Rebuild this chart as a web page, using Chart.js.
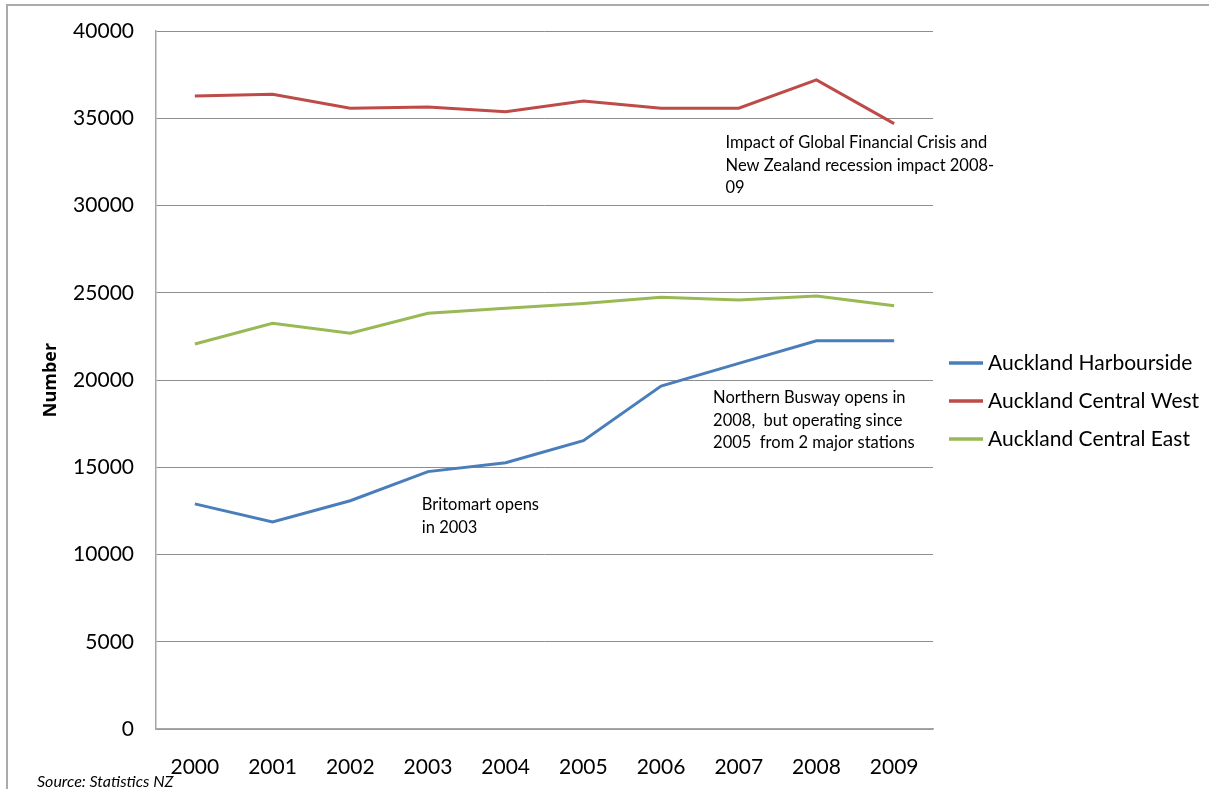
<!DOCTYPE html>
<html>
<head>
<meta charset="utf-8">
<script src="https://cdn.jsdelivr.net/npm/chart.js@4"></script>
<style>
  html, body { margin: 0; padding: 0; background: #fff; }
  #wrap { width: 1209px; height: 789px; position: relative; }
</style>
</head>
<body>
<div id="wrap"><canvas id="c" width="1209" height="789"></canvas></div>
<script>
const years = ['2000','2001','2002','2003','2004','2005','2006','2007','2008','2009'];
const harbourside = [12900, 11860, 13080, 14750, 15260, 16520, 19650, 20950, 22250, 22250];
const centralWest = [36280, 36380, 35580, 35650, 35370, 35990, 35580, 35580, 37200, 34690];
const centralEast = [22060, 23250, 22680, 23820, 24110, 24390, 24740, 24590, 24810, 24260];
const seriesNames = ['Auckland Harbourside', 'Auckland Central West', 'Auckland Central East'];
const yTicks = [0, 5000, 10000, 15000, 20000, 25000, 30000, 35000, 40000];
const notes = [
  { x: 2.92, y: 12840, lines: ['Britomart opens', 'in 2003'] },
  { x: 6.67, y: 18970, lines: ['Northern Busway opens in', '2008,  but operating since', '2005  from 2 major stations'] },
  { x: 6.83, y: 33580, lines: ['Impact of Global Financial Crisis and', 'New Zealand recession impact 2008-', '09'] }
];
const sourceText = 'Source: Statistics NZ';

const colors = ['#4a7ebb', '#be4b48', '#98b954'];
const FONT = 'Lato, "Open Sans", sans-serif';

const decor = {
  id: 'decor',
  beforeDraw(chart) {
    const ctx = chart.ctx;
    ctx.save();
    ctx.fillStyle = '#fff';
    ctx.fillRect(0, 0, chart.width, chart.height);
    ctx.strokeStyle = '#ababab';
    ctx.lineWidth = 2;
    ctx.beginPath();
    ctx.moveTo(7, chart.height);
    ctx.lineTo(7, 5);
    ctx.lineTo(chart.width, 5);
    ctx.stroke();
    ctx.restore();
  },
  afterDraw(chart) {
    const ctx = chart.ctx;
    const xs = chart.scales.x, ys = chart.scales.y;
    ctx.save();
    ctx.fillStyle = '#000';
    ctx.font = '16.5px ' + FONT;
    ctx.textBaseline = 'middle';
    ctx.textAlign = 'left';
    notes.forEach(n => {
      const px = xs.getPixelForValue(n.x);
      const py = ys.getPixelForValue(n.y);
      n.lines.forEach((l, i) => ctx.fillText(l, px, py + i * 22.5));
    });
    const lx = xs.right + 16;
    const ly0 = ys.getPixelForValue(20970);
    ctx.font = '21px ' + FONT;
    seriesNames.forEach((name, i) => {
      const y = ly0 + i * 38;
      ctx.strokeStyle = colors[i];
      ctx.lineWidth = 3.5;
      ctx.beginPath();
      ctx.moveTo(lx, y);
      ctx.lineTo(lx + 34, y);
      ctx.stroke();
      ctx.fillStyle = '#000';
      ctx.fillText(name, lx + 39, y);
    });
    ctx.font = 'italic 16px ' + FONT;
    ctx.fillText(sourceText, 37, 782);
    ctx.restore();
  }
};

new Chart(document.getElementById('c'), {
  type: 'line',
  data: {
    labels: years,
    datasets: [
      { label: seriesNames[0], data: harbourside, borderColor: colors[0] },
      { label: seriesNames[1], data: centralWest, borderColor: colors[1] },
      { label: seriesNames[2], data: centralEast, borderColor: colors[2] }
    ].map(d => Object.assign(d, { borderWidth: 3, pointRadius: 0, tension: 0, fill: false, borderCapStyle: 'butt' }))
  },
  options: {
    responsive: false,
    animation: false,
    layout: { padding: { top: 31, right: 276, left: 40, bottom: 0 } },
    plugins: { legend: { display: false }, tooltip: { enabled: false } },
    scales: {
      x: {
        offset: true,
        grid: { display: false, drawTicks: false },
        border: { display: true, color: '#a6a6a6', width: 1.5 },
        ticks: { color: '#000', font: { family: FONT, size: 21 }, padding: 26, maxRotation: 0 },
        afterFit(s) { s.height = 60; s.paddingLeft = 0; s.paddingRight = 0; }
      },
      y: {
        min: 0, max: 40000,
        afterBuildTicks(s) { s.ticks = yTicks.map(v => ({ value: v })); },
        grid: { color: '#8e8e8e', lineWidth: 1, drawTicks: false },
        border: { display: true, color: '#a6a6a6', width: 1.5 },
        ticks: { color: '#000', font: { family: FONT, size: 21 }, padding: 22, callback: v => String(v) },
        title: { display: true, text: 'Number', color: '#000', font: { family: '"Open Sans", sans-serif', size: 18, weight: 'bold' }, padding: { top: 0, bottom: 0 } },
        afterFit(s) { s.width = 116; s.paddingTop = 0; s.paddingBottom = 0; }
      }
    }
  },
  plugins: [decor]
});
</script>
</body>
</html>
